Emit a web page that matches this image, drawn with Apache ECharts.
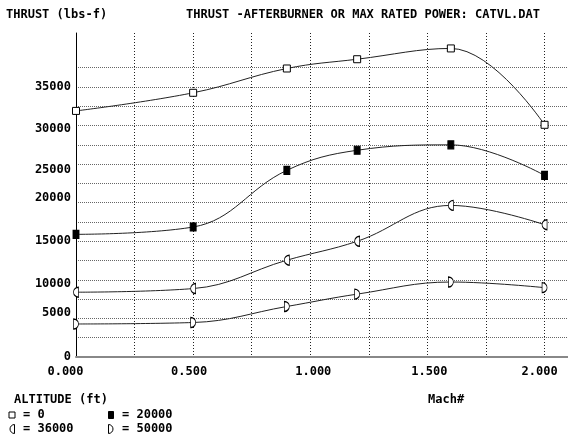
<!DOCTYPE html>
<html>
<head>
<meta charset="utf-8">
<script src="https://cdn.jsdelivr.net/npm/echarts@6/dist/echarts.min.js"></script>
<style>
html,body{margin:0;padding:0;background:#fff;}
#c{width:568px;height:439px;}
</style>
</head>
<body>
<div id="c"></div>
<script>
// ---- data ----
const mach = [0, 0.5, 0.9, 1.2, 1.6, 2.0];
const altitudes = ['0', '20000', '36000', '50000'];
const thrustAlt0 = [31900, 34250, 37400, 38600, 40000, 30100];
const thrustAlt20000 = [15900, 16850, 24200, 26800, 27500, 23550];
const thrustAlt36000 = [8400, 8870, 12550, 15000, 19650, 17150];
const thrustAlt50000 = [4280, 4470, 6550, 8150, 9720, 8990];
const yTickLabels = [0, 5000, 10000, 15000, 20000, 25000, 30000, 35000];
const xTickLabels = [0, 0.5, 1.0, 1.5, 2.0];

// ---- label nudges (px) mimicking the original's character-grid text placement ----
const yLabelNudge = [0, -5.3, 4.3, 0, -4.5, 6, 3, 0];
const xLabelNudge = [-10.5, -4, 3, 2, -5];

const FONT = 'DejaVu Sans Mono';
const baseFont = {fontFamily: FONT, fontWeight: 'bold', fontSize: 12, color: '#000'};
const gfont = 'bold 12px "DejaVu Sans Mono"';

const yRich = {}, xRich = {};
yTickLabels.forEach((v, i) => {
  const d = yLabelNudge[i];
  yRich['y' + i] = Object.assign({padding: d >= 0 ? [2 * d, 0, 0, 0] : [0, 0, -2 * d, 0]}, baseFont);
});
xTickLabels.forEach((v, i) => {
  const d = xLabelNudge[i];
  xRich['x' + i] = Object.assign({padding: d >= 0 ? [0, 0, 0, 2 * d] : [0, -2 * d, 0, 0]}, baseFont);
});

const leftHalf = 'path://M10,0 A10,10 0 0 0 10,20 Z';
const rightHalf = 'path://M0,0 A10,10 0 0 1 0,20 Z';

const seriesDefs = [
  {name: altitudes[0], values: thrustAlt0, symbol: 'rect', size: 7, fill: '#fff'},
  {name: altitudes[1], values: thrustAlt20000, symbol: 'rect', size: [6, 8], fill: '#000'},
  {name: altitudes[2], values: thrustAlt36000, symbol: leftHalf, size: [5, 10], fill: '#fff'},
  {name: altitudes[3], values: thrustAlt50000, symbol: rightHalf, size: [5, 10], fill: '#fff'}
];

const series = seriesDefs.map(d => ({
  type: 'line',
  name: d.name,
  xAxisIndex: 0,
  yAxisIndex: 0,
  data: mach.map((m, i) => [m, d.values[i]]),
  smooth: 0.4,
  symbol: d.symbol,
  symbolSize: d.size,
  showSymbol: true,
  lineStyle: {color: '#222', width: 1},
  itemStyle: {color: d.fill, borderColor: '#000', borderWidth: 1},
  z: 5
}));

// legend as graphics
const legendPos = [[12, 415], [111, 415], [12, 429], [111, 429]];
function textEl(s, x, y) {
  return {type: 'text', x: x, y: y, style: {text: s, fill: '#000', font: gfont, textAlign: 'left', textVerticalAlign: 'middle'}};
}
const graphics = [
  textEl('THRUST (lbs-f)', 6, 15),
  textEl('THRUST -AFTERBURNER OR MAX RATED POWER: CATVL.DAT', 186, 15),
  textEl('Mach#', 428, 400),
  textEl('ALTITUDE (ft)', 14, 400)
];
seriesDefs.forEach((d, i) => {
  const [x, y] = legendPos[i];
  let g;
  if (i < 2) {
    const w = Array.isArray(d.size) ? d.size[0] : d.size;
    const h = Array.isArray(d.size) ? d.size[1] : d.size;
    g = {type: 'rect', shape: {x: x - w / 2 + 0.5, y: y - h / 2 + 0.5, width: w - 1, height: h - 1},
         style: {fill: d.fill, stroke: '#000', lineWidth: 1}};
  } else {
    const left = i === 2;
    g = {type: 'sector', shape: {cx: left ? x + 2.5 : x - 2.5, cy: y, r: 4.5, r0: 0,
         startAngle: left ? Math.PI / 2 : -Math.PI / 2, endAngle: left ? Math.PI * 1.5 : Math.PI / 2, clockwise: true},
         style: {fill: '#fff', stroke: '#000', lineWidth: 1}};
  }
  graphics.push(g);
  graphics.push(textEl('= ' + d.name, x + 11, y));
});

const chart = echarts.init(document.getElementById('c'), null, {renderer: 'canvas'});
chart.setOption({
  animation: false,
  backgroundColor: '#fff',
  grid: [
    {left: 76, right: 0, top: 33, bottom: 82},
    {left: 76, right: 0, top: 67.7, bottom: 82}
  ],
  xAxis: [
    {
      type: 'value', gridIndex: 0, min: 0, max: 2.1, interval: 0.25,
      axisLine: {show: true, lineStyle: {color: '#888', width: 2}},
      axisTick: {show: false},
      axisLabel: Object.assign({
        margin: 9, showMaxLabel: false, rich: xRich,
        formatter: v => {
          const i = xTickLabels.findIndex(t => Math.abs(t - v) < 1e-6);
          return i >= 0 ? '{x' + i + '|' + v.toFixed(3) + '}' : '';
        }
      }, baseFont),
      splitLine: {show: true, showMinLine: false, showMaxLine: false, lineStyle: {color: '#222', type: [1, 2], width: 1}}
    },
    {type: 'value', gridIndex: 1, min: 0, max: 2.1, show: false}
  ],
  yAxis: [
    {
      type: 'value', gridIndex: 0, min: 0, max: 42000, interval: 5000,
      axisLine: {show: true, lineStyle: {color: '#000', width: 1}},
      axisTick: {show: false},
      axisLabel: Object.assign({
        margin: 5, rich: yRich,
        formatter: v => {
          const i = yTickLabels.indexOf(v);
          return i >= 0 ? '{y' + i + '|' + v + '}' : '';
        }
      }, baseFont),
      splitLine: {show: false}
    },
    {
      type: 'value', gridIndex: 1, min: 0, max: 37500, interval: 2500,
      axisLine: {show: false}, axisTick: {show: false}, axisLabel: {show: false},
      splitLine: {show: true, showMinLine: false, lineStyle: {color: '#666', type: [1, 1], width: 1}}
    }
  ],
  series: series,
  graphic: graphics
});
</script>
</body>
</html>
